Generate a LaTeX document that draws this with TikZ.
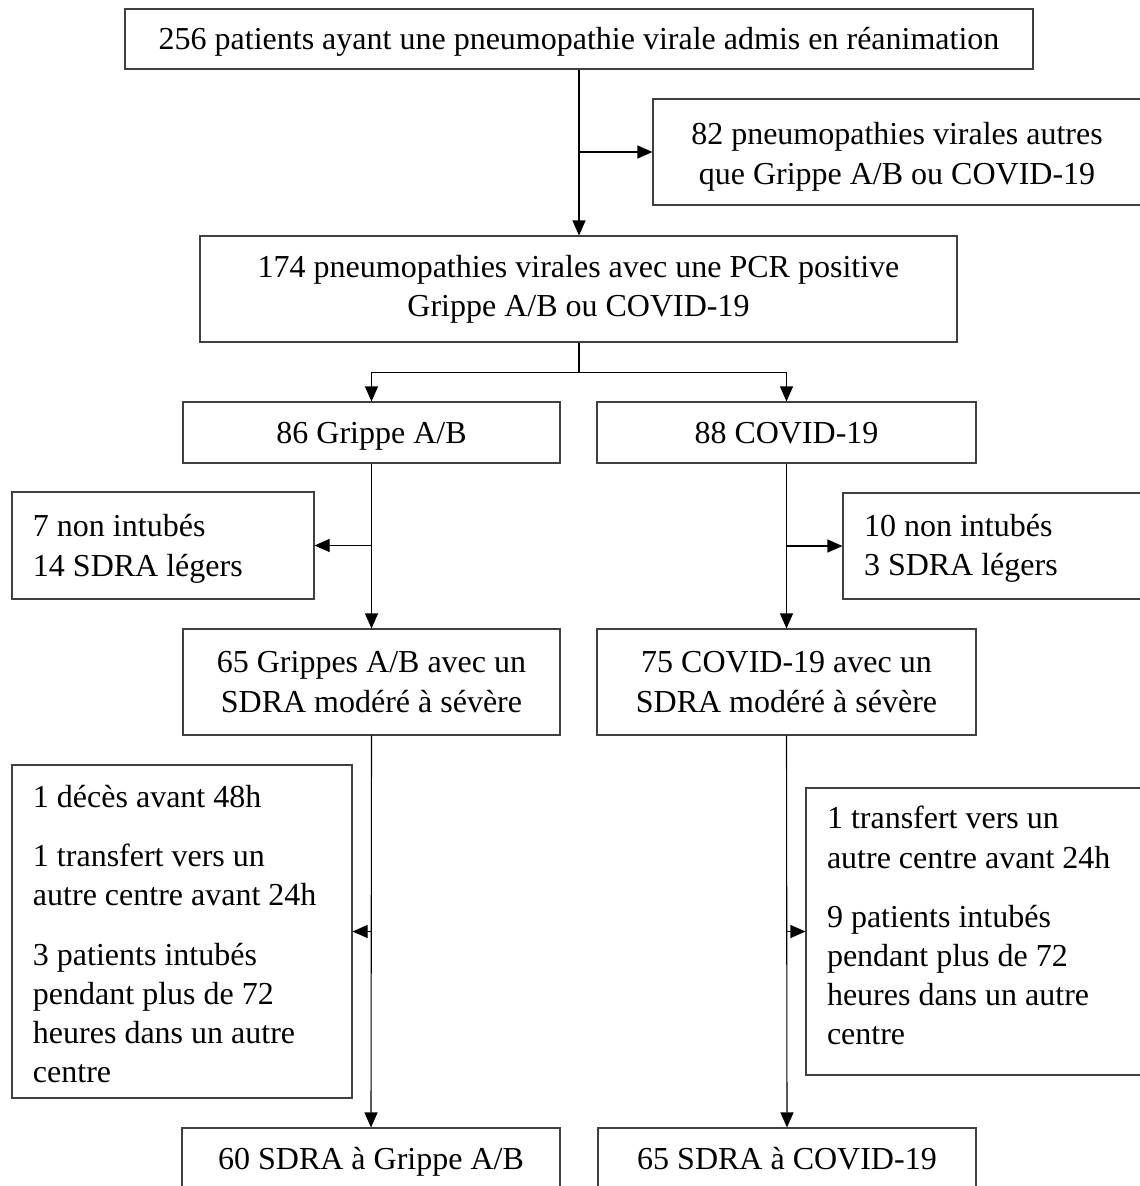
\documentclass[tikz,border=0pt]{standalone}
\usepackage{fontspec}
\setmainfont{Liberation Serif}
\usetikzlibrary{arrows.meta}
\begin{document}
\begin{tikzpicture}[x=1bp,y=-1bp,
  box/.style={draw=black!75, line width=1.1bp, rectangle, inner sep=0pt,
    font=\fontsize{32bp}{39.2bp}\selectfont, align=center},
  single/.style={box, text height=21bp, text depth=0bp},
  sidebox/.style={box, align=flush left, inner xsep=21bp},
  arr/.style={draw=black, line width=1.1bp, -{Triangle[length=15bp,width=13bp]}},
  conn/.style={draw=black, line width=1.1bp}]
\clip (0,0) rectangle (1140,1186);
\fill[white] (0,0) rectangle (1140,1186);

\node[single, minimum width=908bp, minimum height=60bp] (top) at (579,39)
  {256 patients ayant une pneumopathie virale admis en réanimation};
\node[box, minimum width=488bp, minimum height=106bp] (other) at (897,152)
  {\rule{0pt}{32bp}82 pneumopathies virales autres\\que Grippe A/B ou COVID-19};
\node[box, minimum width=757bp, minimum height=106bp] (pcr) at (578.5,289)
  {174 pneumopathies virales avec une PCR positive\\Grippe A/B ou COVID-19};
\node[single, minimum width=377bp, minimum height=61bp] (grippe) at (371.5,432.5) {86 Grippe A/B};
\node[single, minimum width=379bp, minimum height=61bp] (covid) at (786.5,432.5) {88 COVID-19};
\node[sidebox, text width=260bp, minimum height=107bp] (exg) at (163,545.5)
  {\rule{0pt}{29bp}7 non intubés\\14 SDRA légers};
\node[sidebox, text width=256bp, minimum height=106bp] (exc) at (992,546)
  {\rule{0pt}{27bp}10 non intubés\\3 SDRA légers};
\node[box, minimum width=377bp, minimum height=106bp] (g65) at (371.5,682)
  {65 Grippes A/B avec un\\SDRA modéré à sévère};
\node[box, minimum width=379bp, minimum height=106bp] (c75) at (786.5,682)
  {75 COVID-19 avec un\\SDRA modéré à sévère};
\node[sidebox, text width=298bp, minimum height=333bp] (exg2) at (182,931.5)
  {\rule{0pt}{39bp}1 décès avant 48h\\[20bp]1 transfert vers un\\autre centre avant 24h\\[20bp]3 patients intubés\\pendant plus de 72\\heures dans un autre\\centre\strut};
\node[sidebox, text width=293bp, minimum height=287bp] (exc2) at (973.5,931.5)
  {1 transfert vers un\\autre centre avant 24h\\[20bp]9 patients intubés\\pendant plus de 72\\heures dans un autre\\centre\strut};
\node[single, minimum width=378bp, minimum height=61bp] (g60) at (371,1158.5) {60 SDRA à Grippe A/B};
\node[single, minimum width=378bp, minimum height=61bp] (c65) at (787,1158.5) {65 SDRA à COVID-19};

\draw[arr] (top.south) -- (top.south |- pcr.north);
\draw[arr] (top.south |- other.west) -- (other.west);
\draw[conn] (top.south |- pcr.south) -- ++(0,30) coordinate (split);
\draw[arr] (split) -| (grippe.north);
\draw[arr] (split) -| (covid.north);
\draw[arr] (grippe.south) -- (g65.north);
\draw[arr] (grippe.south |- exg.east) -- (exg.east);
\draw[arr] (covid.south) -- (c75.north);
\draw[arr] (covid.south |- exc.west) -- (exc.west);
\draw[arr] (g65.south) -- (g60.north);
\draw[arr] (g65.south |- exg2.east) -- (exg2.east);
\draw[arr] (c75.south) -- (c65.north);
\draw[arr] (c75.south |- exc2.west) -- (exc2.west);
\end{tikzpicture}
\end{document}
